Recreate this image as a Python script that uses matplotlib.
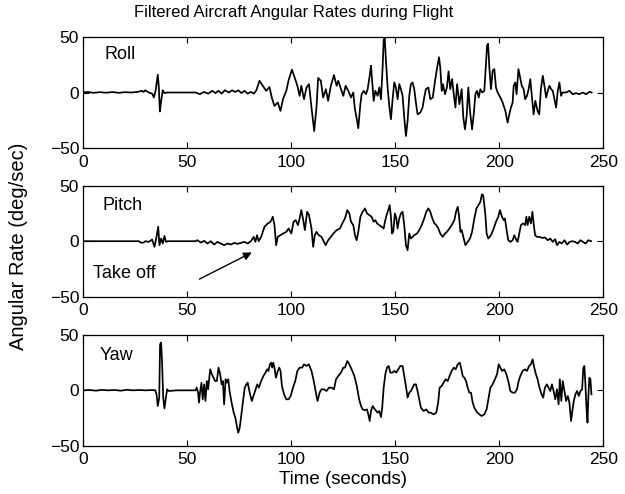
import matplotlib
matplotlib.use('Agg')
import matplotlib.pyplot as plt

plt.rcParams['font.family'] = ['Liberation Sans', 'DejaVu Sans']

# roll rate (deg/sec) vs time (s)
roll_t = [0, 2, 5, 8, 11, 14, 17, 20, 23, 26,
          28.2, 29.0, 29.8, 31.5, 33.1, 33.9, 34.8, 35.8, 36.3, 36.8,
          37.4, 38.2, 39.0, 40.3, 45, 50, 54, 56, 58, 60,
          62, 63.5, 65, 66.5, 68, 70, 71.5, 73, 74.5, 76,
          77.5, 79, 80.5, 82, 83.2, 84.7, 86.3, 87.9, 89.5, 90.6,
          91.9, 93.5, 94.8, 96.0, 97.6, 98.7, 100.3, 101.6, 102.9, 104.0,
          104.8, 106.1, 107.3, 108.5, 109.7, 111.0, 112.1, 112.9, 114.2, 115.3,
          116.6, 117.7, 119.0, 120.5, 121.8, 122.6, 123.9, 125.0, 126.1, 127.4,
          128.7, 129.8, 130.5, 131.3, 132.2,
          133.2, 133.8, 134.8, 135.9, 136.7, 137.8, 138.3, 138.8, 139.6, 140.4,
          141.5, 142.3, 143.1, 143.9, 144.4, 144.9, 145.5, 146.3, 147.1, 147.9,
          148.7, 149.5, 150.3, 151.1, 151.9, 152.7, 153.5, 154.3, 155.1, 155.9,
          156.7, 157.5, 158.3, 159.1, 159.9, 160.7, 162.0, 163.1, 163.9, 164.7,
          165.9, 166.8, 168.0, 169.1, 170.0, 171.0, 171.6, 172.3, 172.9, 173.9,
          174.8, 175.6, 176.4, 177.3, 178.1, 178.9, 179.7, 180.8, 181.9, 182.7,
          183.5, 184.3, 185.1, 185.9, 186.9, 187.7, 188.5, 189.3, 190.1, 190.9,
          191.8, 192.8, 193.4, 194.1, 194.6, 195.2, 196.0, 196.8, 197.6, 198.4,
          199.2, 200.5, 201.6, 202.9, 204.0, 204.8, 205.6, 206.4, 206.9, 207.7,
          208.3, 209.2, 210.0, 210.8, 211.7, 212.4, 213.3, 214.1, 214.9, 215.7,
          216.5, 217.3, 218.4, 219.2, 220.0, 220.9, 221.7, 222.5, 223.3, 224.1,
          224.9, 225.7, 226.5, 227.3, 228.1, 228.9, 229.7, 230.5, 232.1, 233.7,
          235.3, 236.9, 238.5, 240.1, 241.7, 243.3, 244.4]
roll_v = [0, 0.5, -0.3, 0.3, -0.2, 0.4, -0.3, 0.3, 0, 0.5,
          1.5, 0.5, 2, 0, -1, -4.5, 2, 16, 5, -17,
          -8, 2, -0.5, 0, 0, 0, 0, -1.5, 0.5, -1,
          1.5, -0.5, 1.5, -1, 2, 0, 2, 0.5, 2, -0.5,
          1.5, -1, 0.5, -1, 2, 10.5, 6, 1.5, 5, -4.5,
          -12, -9, -16.5, -6, 1.5, 11, 20.5, 13.5, 6, -3,
          6, -6, 4.5, 7.5, -13.5, -34.6, -13.5, 13, 10.5, -4.5,
          3, -7.5, 6, 15.6, 6, 10.5, 3, -3, 6, 1.5,
          -4.5, 0, -14, -22, -32,
          -10.5, -1.5, 1.5, -1.5, 3, 16.5, 24, 12, -7.5, 1.5,
          -3, 4.5, -6, 22.6, 46.7, 49, 28.6, 4.5, -12, -24,
          -6, 9, 4.5, -6, 7.5, 3, -3, -22.6, -39, -25.6,
          -3, 7.5, 9, 3, -9, -19.6, -18, -13.5, -4.5, 3,
          4.5, -6, -4.5, 10.5, 21, 31.6, 22.6, 1.5, 7.5, -1.5,
          4.5, 19, 3, 12, -1.5, -13.5, 7.5, -10.5, 3, -22.6,
          -33, -21, 4.5, -16.5, -33, -19.6, -1.5, 1.5, -4.5, 3,
          0, 1.5, 19.6, 42, 43.7, 22.6, 3, 19.6, 21, 4.5,
          0, -4.5, -9, -16.5, -27, -19.6, -13.5, -9, 6, 9,
          -1.5, 21, 13.5, 6, 3, -6, -3, 3, 12, -4.5,
          -19.6, -7.5, -16.5, -19.6, 3, 15, 6, -4.5, 1.5, 6,
          3, 1.5, -6, -13.5, 1.5, 9, -3, 0, 0, 1.5,
          -1.5, -0.6, -1.5, 0, -1.5, 0.6, 0]

pitch_t = [0, 26.6, 28.0, 29.0, 29.8, 31.5, 33.1, 34.2, 35.2, 36.0,
           36.6, 37.4, 38.2, 39.0, 39.7, 40.6, 54.0, 54.8, 56.5, 58.1,
           59.7, 61.3, 62.9, 64.5, 66.1, 67.7, 69.4, 71.0, 72.6, 74.2,
           75.8, 77.4, 79.0, 80.6, 81.9, 82.7, 83.5, 84.3, 85.5, 87.1,
           88.7, 90.0, 91.1, 91.9, 92.7, 93.5, 94.7, 96.0, 97.6, 98.7,
           100.0, 101.1, 102.1, 103.2, 104.0, 104.8, 105.6, 106.5, 107.6, 108.5,
           109.7, 110.5, 111.3, 112.1, 113.2, 114.5, 115.7, 116.5, 117.7, 119.0,
           120.2, 121.8, 123.4, 124.5, 125.8, 126.9, 127.9, 128.7, 129.8,
           130.6, 131.4, 132.2, 133.2, 134.3, 135.4, 136.4, 137.5, 138.6, 139.6,
           140.4, 141.2, 142.3, 143.4, 144.4, 145.0, 145.8, 146.6, 147.3, 147.9,
           148.4, 149.0, 149.8, 150.5, 151.1, 151.9, 152.7, 153.5, 154.3, 155.1,
           155.9, 156.7, 157.5, 158.3, 159.1, 160.4, 161.5, 162.7, 163.9, 164.9,
           165.9, 166.8, 167.8, 168.8, 169.7, 170.7, 171.6, 172.8, 173.9, 174.8,
           176.0, 177.1, 178.4, 179.2, 180.0, 180.6, 181.3, 181.9, 182.7, 183.7,
           184.8, 185.9, 186.9, 188.0, 189.0, 190.0, 190.9, 191.6, 192.2, 192.8,
           193.3, 193.9, 194.7, 196.0, 197.3, 198.4, 199.5, 200.3, 201.3, 202.1,
           202.7, 203.5, 204.3, 205.3, 206.4, 207.2, 208.2, 208.8, 209.6, 210.4,
           211.4, 212.4, 213.0, 213.6, 214.4, 215.2, 215.9, 216.5, 217.2, 218.1,
           219.3, 220.5, 222.0, 223.3, 224.5, 225.7, 226.8, 227.8, 228.9, 230.0,
           231.3, 232.6, 233.8, 235.1, 236.4, 237.7, 239.0, 240.2, 241.5, 242.8, 244.1]
pitch_v = [0, 0, -1.5, -1.2, 0, -0.6, 1.5, -5.1, 3.9, 13,
           -3.6, 2.4, -2.1, 4.8, -0.6, 0, 0, 0.9, -1.2, 0.3,
           -2.1, 0, -3, -0.6, -2.1, -3.6, -2.1, -3, -1.5, -2.4,
           -1.5, -0.6, -2.1, 0, 3.9, -0.6, 5.4, 0, 3.9, 13,
           16, 17.5, 22, 14.5, -3.6, 3.9, 5.4, 6.9, 8.4, 11.4,
           6.9, 17.5, 19, 14.5, 20.5, 28, 20.5, 10, 26.5, 23.5,
           11.4, -5.1, 5.4, 8.4, 5.4, 3.9, -0.6, -3.6, 0.9, 3.9,
           6.9, 10, 11.4, 16, 20.5, 28, 25, 17.5, 14.5,
           5.4, 0.9, 8.4, 22, 26.5, 29.5, 25, 23.5, 22, 17.5,
           19, 16, 14.5, 13, 11.4, 17.5, 23.5, 28, 32.5, 22,
           6.9, 8.4, 25, 20.5, 11.4, 20.5, 25, 26.5, 14.5, -3.6,
           -8.1, 6.9, 2.4, 3.9, 5.4, 6.9, 10, 14.5, 20.5, 26.5,
           29.5, 26.5, 20.5, 16, 14.5, 11.4, 6.9, 3.9, 6.9, 8.4,
           11.4, 14.5, 19, 26.5, 31, 23.5, 8.4, 10, 3.9, -3.6,
           -0.6, 2.4, 8.4, 20.5, 29.5, 32.5, 35.5, 42.2, 41.6, 32.5,
           23.5, 6.9, 2.4, 5.4, 11.4, 17.5, 22, 28, 22, 19,
           20.5, 10, 0.9, -0.6, 0.9, 5.4, 0.9, -0.6, 6.9, 14.5,
           16, 14.5, 22, 14.5, 22, 16, 26.5, 16, 5.4, 3.9,
           3.9, 3, 3.3, 0.9, 2.4, -0.6, 1.8, -3.6, -0.6, -2.1,
           0.9, -3, -0.6, 0, -0.6, -2.1, 0.9, -0.6, -2.1, 0.9, 0]

yaw_t = [0, 3, 6, 9, 12, 15, 18, 21, 24, 27,
         30, 33, 34.6, 35.2, 35.8, 36.5, 36.9, 37.4, 37.9, 38.4,
         39.0, 39.7, 40.3, 41.1, 45, 50, 54.0, 54.5, 55.2, 55.6,
         56.1, 56.8, 57.4, 58.1, 58.7, 59.4, 60.0, 61.0, 61.8, 62.6,
         63.4, 64.2, 65.0, 65.8, 66.5, 67.1, 67.7, 68.4, 69.0, 69.7,
         70.3, 71.3, 72.3, 73.1, 73.9, 74.5, 75.2, 76.0, 76.8, 77.6,
         78.4, 79.0, 80.0, 81.0, 81.8, 82.6, 83.6, 84.4, 85.5, 86.6,
         87.6, 88.4, 89.0, 89.7, 90.3, 90.8, 91.3, 91.9, 92.6, 93.5,
         94.2, 94.8, 95.5, 96.5, 97.6, 98.7, 99.7, 100.8, 101.9, 102.9,
         104.0, 105.2, 106.1, 107.3, 108.4, 109.7, 110.8, 111.8, 112.6, 113.6,
         114.5, 115.7, 116.9, 118.1, 119.4, 120.5, 121.5, 122.6, 123.9, 125.0,
         125.8, 126.9, 127.9, 129.0, 130.3, 131.5, 132.6, 133.5,
         134.3, 135.4, 136.4, 137.0, 137.7, 138.3, 139.1, 140.2, 141.5, 142.3,
         143.1, 143.7, 144.4, 145.2, 146.0, 146.8, 147.6, 148.6, 149.5, 150.5,
         151.4, 152.4, 153.5, 154.3, 155.1, 155.9, 156.7, 157.5, 158.3, 159.1,
         159.9, 160.7, 161.5, 162.3, 163.6, 164.9, 166.0, 167.1, 168.4, 169.7,
         170.6, 171.3, 172.3, 173.2, 174.2, 175.2, 176.1, 177.1, 178.1, 179.0,
         180.0, 181.0, 181.6, 182.4, 183.2, 184.0, 184.8, 185.6, 186.4, 187.2,
         188.0, 189.1, 190.4, 191.5, 192.8, 193.9, 194.9, 195.7, 196.8, 197.9,
         198.9, 199.7, 200.5, 201.3, 202.4, 203.4, 204.3, 205.3, 206.4, 207.5,
         208.5, 209.3, 210.1, 211.2, 212.4, 213.3, 214.3, 215.2, 216.0, 216.8,
         217.6, 218.4, 219.3, 220.3, 221.1, 221.9, 222.9, 223.7, 224.5, 225.3,
         226.1, 226.9, 227.7, 228.5, 229.1, 229.8, 230.5, 231.3, 232.1, 232.9,
         233.7, 234.5, 235.1, 235.8, 236.6, 237.4, 238.2, 239.0, 239.8, 240.4,
         240.9, 241.4, 241.9, 242.4, 242.8, 243.3, 243.8, 244.3]
yaw_v = [0, 0.3, -0.3, 0.4, 0, 0.3, -0.3, 0.5, 0, 0.3,
         0, 0.3, 0, -3.6, -14.2, -6.6, 41.6, 43.1, 23.5, -6.6,
         -16.3, -6.6, 0.9, -0.6, 0, 0, 0, 2.4, -2.1, -11.1,
         -2.1, 6.9, -8.1, 5.4, -9.6, 8.4, 0.9, 19, 14.5, 11.4,
         8.4, 8.4, 20.5, 14.5, 5.4, 8.4, -12.7, 10, 6.9, 10,
         -0.6, -11.1, -20.2, -24.7, -33.1, -38.3, -33.7, -21.7, -9.6, 2.4,
         5.4, 6.9, -2.1, -9.6, -5.1, -0.6, 5.4, 2.4, 8.4, 13,
         16, 19, 17.5, 23.5, 25, 20.5, 25, 20.5, 11.4, 17.5,
         20.5, 17.5, 3.9, -3.6, -8.1, -8.1, -5.1, 2.4, 8.4, 17.5,
         20.5, 20.5, 23.5, 22, 23.5, 17.5, 8.4, -2.1, -9.6, -2.1,
         0.9, 0.9, -0.6, 2.4, 2.4, 0.9, 10, 13, 16, 20.5,
         20.5, 26.5, 23.5, 19, 13, 3.9, -8.1, -14,
         -17.2, -18, -17.2, -21.7, -27.7, -18.7, -14.2, -17.2, -20.2, -18.7,
         -24.1, -15.7, 2.4, 14.5, 20.5, 22, 16, 16, 17.5, 16,
         19, 22, 22, 13, 3.9, -6.6, -2.1, -0.6, 2.4, 5.4,
         5.4, -0.6, -8.1, -15.7, -18.7, -17.2, -20.2, -20.2, -21.7, -20.2,
         -11.1, 2.4, 3.9, 6.9, 10, 8.4, 13, 17.5, 20.5, 19,
         23.5, 25, 20.5, 13, 11.4, 8.4, 2.4, -2.1, -2.1, -11.1,
         -15.7, -19.3, -21.7, -23.2, -21.7, -17.2, -6.6, 2.4, 5.4, 10,
         14.5, 23.5, 20.5, 17.5, 19, 14.5, 8.4, -0.6, -2.1, -2.1,
         0.9, 8.4, 13, 17.5, 19, 17.5, 22, 23.5, 28, 20.5,
         14.5, 10, 2.4, -3.6, -6.6, 2.4, 5.4, 2.4, -0.6, 5.4,
         -0.6, -8.1, 0.9, -12.7, 10, -9.6, 8.4, -0.6, -9.6, -5.1,
         -11.1, -27.7, -18.7, -9.6, -3.6, -0.6, -5.1, -0.6, 0.9, 20.5,
         22, 5.4, -15.7, -29.2, -6.6, 11.4, 10, -3.6]

panel_names = ['Roll', 'Pitch', 'Yaw']
x_ticks = [0, 50, 100, 150, 200, 250]
y_ticks = [-50, 0, 50]

fig = plt.figure(figsize=(6.25, 4.94), dpi=100)
rects = [[0.1333, 0.6998, 0.832, 0.2259],
         [0.1333, 0.3994, 0.832, 0.2247],
         [0.1333, 0.0978, 0.832, 0.2241]]
series = [(roll_t, roll_v), (pitch_t, pitch_v), (yaw_t, yaw_v)]
label_pos = [(10.4, 34), (9, 32.4), (8, 31.6)]

axes = []
for rect, (t, v), name, lp in zip(rects, series, panel_names, label_pos):
    ax = fig.add_axes(rect)
    ax.plot(t, v, color='k', lw=1.25)
    ax.set_xlim(0, 250)
    ax.set_ylim(-50, 50)
    ax.set_xticks(x_ticks)
    ax.set_yticks(y_ticks)
    ax.tick_params(direction='in', top=True, right=True, length=4,
                   width=0.8, labelsize=12.5)
    ax.tick_params(axis='x', pad=4.5)
    ax.tick_params(axis='y', pad=3)
    for s in ax.spines.values():
        s.set_linewidth(0.9)
    ax.text(lp[0], lp[1], name, fontsize=13, va='center', ha='left')
    axes.append(ax)

axes[1].text(4.7, -29, 'Take off', fontsize=13, va='center', ha='left')
axes[1].annotate('', xy=(81, -10.2), xytext=(55.8, -34.2),
                 arrowprops=dict(arrowstyle='-|>', color='k', lw=1.0,
                                 mutation_scale=12, shrinkA=0, shrinkB=0))

axes[2].set_xlabel('Time (seconds)', fontsize=13.5, labelpad=3)
fig.text(0.03, 1 - 246 / 494, 'Angular Rate (deg/sec)', rotation=90,
         fontsize=14.5, ha='center', va='center')
fig.text(294 / 625, 1 - 13 / 494, 'Filtered Aircraft Angular Rates during Flight',
         fontsize=12, ha='center', va='center')

fig.savefig('out.png', dpi=100)
